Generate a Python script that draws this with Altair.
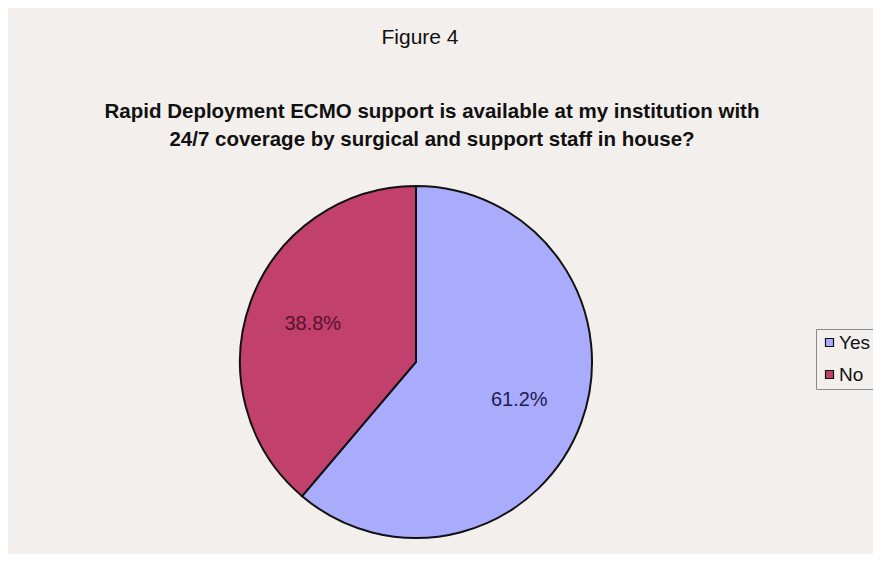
import altair as alt
import pandas as pd

categories = ["Yes", "No"]
values = [61.2, 38.8]
labels = ["61.2%", "38.8%"]
colors = ["#a9abfc", "#c1406c"]
label_colors = ["#1d1d4e", "#5a1030"]

title_top = "Figure 4"
title_lines = [
    "Rapid Deployment ECMO support is available at my institution with",
    "24/7 coverage by surgical and support staff in house?",
]

FONT = "Liberation Sans Narrow, Arial Narrow, Liberation Sans, Arial"
W, H = 865, 546
CX, CY, R = 408, 354, 176

df = pd.DataFrame({"cat": categories, "value": values, "label": labels,
                   "order": list(range(len(categories))), "tcol": label_colors})

base = alt.Chart(df).encode(
    theta=alt.Theta("value:Q", stack=True),
    order=alt.Order("order:Q"),
)

pie = base.mark_arc(stroke="#111111", strokeWidth=2, radius=R).encode(
    color=alt.Color(
        "cat:N",
        scale=alt.Scale(domain=categories, range=colors),
        sort=categories,
        legend=alt.Legend(
            title=None, orient="none", legendX=808, legendY=321,
            symbolType="square", symbolSize=64, symbolStrokeColor="#111111",
            symbolStrokeWidth=1.2, labelFont=FONT, labelFontSize=19,
            labelColor="#111111", strokeColor="#8a8a8a", padding=4,
            rowPadding=12, symbolOffset=0, labelOffset=0,
        ),
    ),
    x=alt.value(CX), y=alt.value(CY),
)

txt = base.mark_text(radius=110, font=FONT, fontSize=20).encode(
    text="label:N",
    color=alt.Color("tcol:N", scale=None),
    x=alt.value(CX), y=alt.value(CY),
)

t1 = alt.Chart(pd.DataFrame({"t": [title_top]})).mark_text(
    font=FONT, fontSize=21, color="#111111", baseline="alphabetic"
).encode(text="t:N", x=alt.value(412), y=alt.value(36))

t2 = alt.Chart(pd.DataFrame({"t": [title_lines[0]]})).mark_text(
    font=FONT, fontSize=20.5, fontWeight="bold", color="#111111", baseline="alphabetic"
).encode(text="t:N", x=alt.value(424), y=alt.value(110))

t3 = alt.Chart(pd.DataFrame({"t": [title_lines[1]]})).mark_text(
    font=FONT, fontSize=20.5, fontWeight="bold", color="#111111", baseline="alphabetic"
).encode(text="t:N", x=alt.value(424), y=alt.value(138))

chart = alt.layer(pie, txt, t1, t2, t3).properties(
    width=W, height=H, background="#f3efec", padding=0,
    autosize=alt.AutoSizeParams(type="none"),
).configure_view(stroke=None)

chart.save("out.html", embed_options={"renderer": "svg", "actions": False})
